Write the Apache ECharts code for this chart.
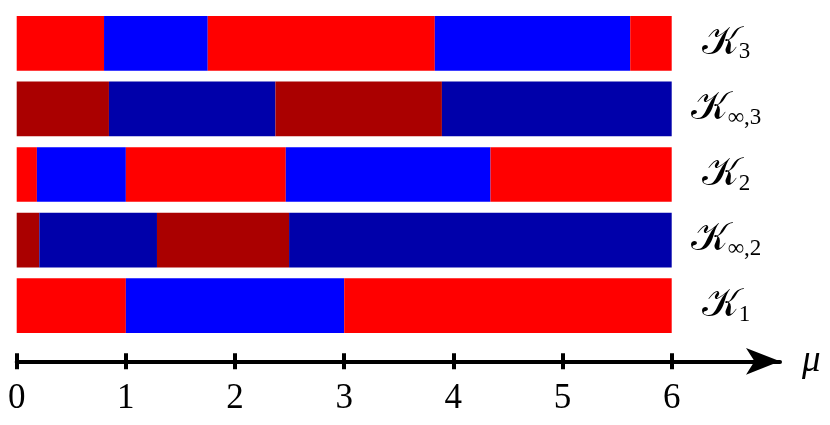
<!DOCTYPE html>
<html>
<head>
<meta charset="utf-8">
<script src="https://cdn.jsdelivr.net/npm/echarts@6/dist/echarts.min.js"></script>
<style>
html,body{margin:0;padding:0;background:#fff;}
#chart{width:830px;height:425px;}
</style>
</head>
<body>
<div id="chart"></div>
<script>
// Row labels, bottom to top
const rowNames = ['K1', 'Kinf2', 'K2', 'Kinf3', 'K3'];
// Segment breakpoints along mu for each row (bottom to top)
const k1Breaks = [0, 1, 3, 6];
const kInf2Breaks = [0, 0.207, 1.285, 2.495, 6];
const k2Breaks = [0, 0.185, 1.0, 2.465, 4.34, 6];
const kInf3Breaks = [0, 0.845, 2.37, 3.895, 6];
const k3Breaks = [0, 0.80, 1.75, 3.83, 5.62, 6];
const rowBreaks = [k1Breaks, kInf2Breaks, k2Breaks, kInf3Breaks, k3Breaks];
// Whether a row uses dark (infinite-limit) colours
const rowDark = [false, true, false, true, false];
// Tick values
const tickValues = [0, 1, 2, 3, 4, 5, 6];

const segColors = {
  light: ['#ff0000', '#0000ff'],
  dark: ['#aa0000', '#0000aa']
};

const segData = [];
rowBreaks.forEach(function (b, r) {
  for (let i = 0; i < b.length - 1; i++) {
    segData.push([b[i], b[i + 1], r, i % 2, rowDark[r] ? 1 : 0]);
  }
});

const labelRich = {
  K: { fontFamily: 'DejaVu Serif', fontSize: 40, color: '#000' },
  s: { fontFamily: 'Liberation Serif', fontSize: 23, color: '#000', padding: [18, 0, 0, 0] }
};
const labelText = {
  K1: '{K|𝒦}{s|1}',
  K2: '{K|𝒦}{s|2}',
  K3: '{K|𝒦}{s|3}',
  Kinf2: '{K|𝒦}{s|∞,2}',
  Kinf3: '{K|𝒦}{s|∞,3}'
};

const chart = echarts.init(document.getElementById('chart'), null, { renderer: 'canvas' });
chart.setOption({
  animation: false,
  backgroundColor: '#fff',
  grid: { left: 16.7, right: 50, top: 10.5, bottom: 86.5, containLabel: false },
  xAxis: [{
    type: 'value', min: 0, max: 6.992, interval: 1,
    offset: 22.8,
    splitLine: { show: false },
    axisLine: { show: true, lineStyle: { color: '#000', width: 4 }, symbol: ['none', 'arrow'], symbolSize: [20, 34] },
    axisTick: { show: true, customValues: tickValues, length: 8, lineStyle: { color: '#000', width: 4 } },
    axisLabel: { show: true, customValues: tickValues, margin: 20, fontFamily: 'Liberation Serif', fontSize: 35, color: '#000' },
    name: 'μ', nameLocation: 'end', nameGap: 22,
    nameTextStyle: { fontFamily: 'Liberation Serif', fontSize: 37, fontStyle: 'italic', color: '#000', verticalAlign: 'middle', padding: [4, 0, 0, 0] }
  }, {
    type: 'value', min: 0, max: 6.992, interval: 1,
    offset: 22.8, position: 'bottom',
    splitLine: { show: false },
    axisLine: { show: false },
    axisTick: { show: true, inside: true, customValues: tickValues, length: 8, lineStyle: { color: '#000', width: 4 } },
    axisLabel: { show: false }
  }],
  yAxis: {
    type: 'category', data: rowNames, position: 'right',
    axisLine: { show: false }, axisTick: { show: false }, splitLine: { show: false },
    axisLabel: {
      show: true, margin: -54, align: 'center',
      formatter: function (v) { return labelText[v]; },
      rich: labelRich
    }
  },
  series: [{
    type: 'custom',
    xAxisIndex: 0,
    data: segData,
    encode: { x: [0, 1], y: 2 },
    renderItem: function (params, api) {
      const start = api.coord([api.value(0), api.value(2)]);
      const end = api.coord([api.value(1), api.value(2)]);
      const h = api.size([0, 1])[1] * 0.834;
      const palette = api.value(4) ? segColors.dark : segColors.light;
      return {
        type: 'rect',
        shape: { x: start[0], y: start[1] - h / 2, width: end[0] - start[0], height: h },
        style: { fill: palette[api.value(3)] }
      };
    }
  }]
});
</script>
</body>
</html>
